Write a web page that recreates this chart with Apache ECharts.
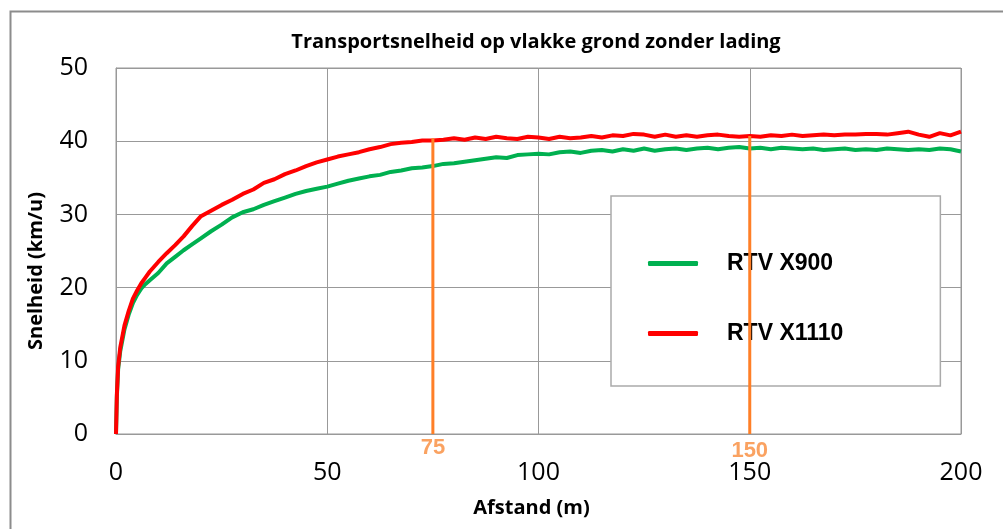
<!DOCTYPE html>
<html>
<head>
<meta charset="utf-8">
<script src="https://cdn.jsdelivr.net/npm/echarts@6/dist/echarts.min.js"></script>
<style>
  html, body { margin: 0; padding: 0; background: #fff; }
  #chart { width: 1003px; height: 529px; }
</style>
</head>
<body>
<div id="chart"></div>
<script>
// afstand (m)
var afstand = [0, 0.2, 0.5, 1, 2, 3, 4, 5, 6, 7, 8, 10, 12, 14, 16, 18, 20,
  22.5, 25, 27.5, 30, 32.5, 35, 37.5, 40, 42.5, 45, 47.5, 50, 52.5, 55, 57.5, 60,
  62.5, 65, 67.5, 70, 72.5, 75, 77.5, 80, 82.5, 85, 87.5, 90, 92.5, 95, 97.5, 100,
  102.5, 105, 107.5, 110, 112.5, 115, 117.5, 120, 122.5, 125, 127.5, 130, 132.5, 135,
  137.5, 140, 142.5, 145, 147.5, 150, 152.5, 155, 157.5, 160, 162.5, 165, 167.5, 170,
  172.5, 175, 177.5, 180, 182.5, 185, 187.5, 190, 192.5, 195, 197.5, 200];

// snelheid (km/u)
var rtvX900 = [0, 5, 8.8, 11.3, 14.3, 16.3, 17.9, 19.0, 19.9, 20.5, 21.0, 22.0, 23.3, 24.2, 25.1, 25.9, 26.7,
  27.7, 28.6, 29.6, 30.3, 30.7, 31.3, 31.8, 32.3, 32.8, 33.2, 33.5, 33.8, 34.2, 34.6, 34.9, 35.2,
  35.4, 35.8, 36.0, 36.3, 36.4, 36.6, 36.9, 37.0, 37.2, 37.4, 37.6, 37.8, 37.7, 38.1, 38.2, 38.3,
  38.2, 38.5, 38.6, 38.4, 38.7, 38.8, 38.6, 38.9, 38.7, 39.0, 38.7, 38.9, 39.0, 38.8,
  39.0, 39.1, 38.9, 39.1, 39.2, 39.0, 39.1, 38.9, 39.1, 39.0, 38.9, 39.0, 38.8, 38.9,
  39.0, 38.8, 38.9, 38.8, 39.0, 38.9, 38.8, 38.9, 38.8, 39.0, 38.9, 38.6];
var rtvX1110 = [0, 5.3, 9.2, 11.8, 14.8, 16.8, 18.5, 19.6, 20.6, 21.4, 22.2, 23.5, 24.7, 25.8, 27.0, 28.4, 29.7,
  30.5, 31.3, 32.0, 32.8, 33.4, 34.3, 34.8, 35.5, 36.0, 36.6, 37.1, 37.5, 37.9, 38.2, 38.5, 38.9,
  39.2, 39.6, 39.8, 39.9, 40.1, 40.1, 40.2, 40.4, 40.2, 40.5, 40.3, 40.6, 40.4, 40.3, 40.6, 40.5,
  40.3, 40.6, 40.4, 40.5, 40.7, 40.5, 40.8, 40.7, 41.0, 40.9, 40.6, 40.9, 40.6, 40.8,
  40.6, 40.8, 40.9, 40.7, 40.6, 40.7, 40.6, 40.8, 40.7, 40.9, 40.7, 40.8, 40.9, 40.8,
  40.9, 40.9, 41.0, 41.0, 40.9, 41.1, 41.3, 40.9, 40.6, 41.1, 40.8, 41.3];

// oranje markeringen
var markX = [75, 150];
var markTop = [40.4, 40.7];

function pairs(xs, ys) {
  return xs.map(function (x, i) { return [x, ys[i]]; });
}

var chart = echarts.init(document.getElementById("chart"));

var series = [
  {
    name: "RTV X900",
    type: "line",
    data: pairs(afstand, rtvX900),
    showSymbol: false,
    symbol: "none",
    lineStyle: { color: "#00b050", width: 4 },
    itemStyle: { color: "#00b050" },
    z: 3
  },
  {
    name: "RTV X1110",
    type: "line",
    data: pairs(afstand, rtvX1110),
    showSymbol: false,
    symbol: "none",
    lineStyle: { color: "#ff0000", width: 4 },
    itemStyle: { color: "#ff0000" },
    z: 4
  }
];

markX.forEach(function (x, i) {
  series.push({
    name: "mark" + x,
    type: "line",
    data: [[x, 0], [x, markTop[i]]],
    showSymbol: false,
    symbol: "none",
    lineStyle: { color: "#ff7f27", width: 3 },
    z: 5
  });
  series.push({
    name: "label" + x,
    type: "scatter",
    data: [[x, 0]],
    symbolSize: 0,
    label: {
      show: true,
      position: "bottom",
      distance: i === 0 ? 3 : 6,
      formatter: String(x),
      color: "#f98b3a",
      fontFamily: "Liberation Sans",
      fontWeight: "bold",
      fontSize: 22
    },
    z: 6
  });
});

chart.setOption({
  animation: false,
  title: {
    text: "Transportsnelheid op vlakke grond zonder lading",
    left: 531,
    top: 27,
    textAlign: "center",
    textStyle: { fontFamily: "Open Sans", fontWeight: "bold", fontSize: 20, color: "#000" }
  },
  grid: {
    left: 116, right: 42, top: 68, bottom: 95,
    show: true, borderColor: "#999", borderWidth: 1
  },
  legend: {
    data: ["RTV X900", "RTV X1110"],
    orient: "vertical",
    left: 611,
    top: 196,
    padding: [56, 97, 41, 37],
    itemGap: 47,
    itemWidth: 50,
    itemHeight: 5,
    icon: "roundRect",
    backgroundColor: "#fff",
    borderColor: "#aaa",
    borderWidth: 1.5,
    borderRadius: 0,
    textStyle: {
      fontFamily: "Liberation Sans",
      fontWeight: "bold",
      fontSize: 23,
      color: "#000",
      padding: [0, 0, 0, 24]
    }
  },
  xAxis: {
    type: "value",
    min: 0, max: 200, interval: 50,
    name: "Afstand (m)",
    nameLocation: "middle",
    nameGap: 64,
    nameTextStyle: { fontFamily: "Open Sans", fontWeight: "bold", fontSize: 20, color: "#000", padding: [0, 14, 0, 0] },
    axisLine: { lineStyle: { color: "#999", width: 1 } },
    axisTick: { show: false },
    axisLabel: { fontFamily: "Open Sans", fontSize: 25, color: "#000", margin: 26 },
    splitLine: { lineStyle: { color: "#999", width: 1 } }
  },
  yAxis: {
    type: "value",
    min: 0, max: 50, interval: 10,
    axisLine: { show: true, lineStyle: { color: "#999", width: 1 } },
    axisTick: { show: false },
    axisLabel: { fontFamily: "Open Sans", fontSize: 25, color: "#000", margin: 28 },
    splitLine: { lineStyle: { color: "#999", width: 1 } }
  },
  graphic: [
    {
      type: "rect",
      left: 8, top: 9,
      shape: { width: 1100, height: 600 },
      style: { fill: "none", stroke: "#8c8c8c", lineWidth: 2 },
      silent: true
    },
    {
      type: "text",
      x: 36, y: 271,
      rotation: Math.PI / 2,
      style: {
        text: "Snelheid (km/u)",
        fontFamily: "Open Sans",
        fontWeight: "bold",
        fontSize: 20,
        fill: "#000",
        align: "center",
        verticalAlign: "middle"
      }
    }
  ],
  series: series
});
</script>
</body>
</html>
